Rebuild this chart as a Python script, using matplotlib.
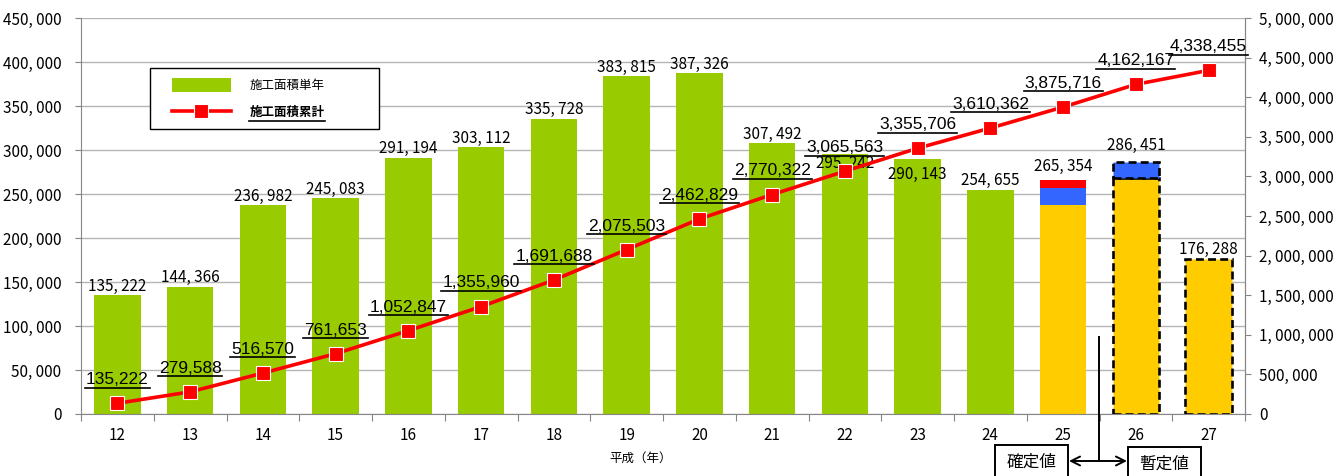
import numpy as np
import matplotlib
matplotlib.use("Agg")
import matplotlib.pyplot as plt
from matplotlib.lines import Line2D
from matplotlib.patches import Patch, Rectangle
from matplotlib.ticker import FuncFormatter, MultipleLocator

plt.rcParams['font.family'] = ['Noto Sans CJK JP', 'DejaVu Sans']

# 平成12年〜27年
years = [12, 13, 14, 15, 16, 17, 18, 19, 20, 21, 22, 23, 24, 25, 26, 27]
area_single = [135222, 144366, 236982, 245083, 291194, 303112, 335728, 383815,
               387326, 307492, 295242, 290143, 254655, 265354, 286451, 176288]
area_total = [135222, 279588, 516570, 761653, 1052847, 1355960, 1691688, 2075503,
              2462829, 2770322, 3065563, 3355706, 3610362, 3875716, 4162167, 4338455]
# H25-27 are split into parts, the rest is red
split_years = [25, 26, 27]
split_yellow = [237500, 267800, 176288]
split_blue = [19700, 18651, 0]
provisional_from = 26

GREEN = '#99CC00'
YELLOW = '#FFCC00'
BLUE = '#3366FF'
RED = '#FF0000'
GRAY = '#868686'

W, H = 1341, 476


def fpx(x, y):
    return x / W, 1 - y / H


def fmt(v, _=None):
    return f'{int(v):,}'.replace(',', ', ')


fig = plt.figure(figsize=(W / 100, H / 100), dpi=100)
ax = fig.add_axes([81 / W, 62 / H, 1164 / W, 396 / H])
x = np.arange(len(years))
bw = 0.64

# single-year bars
for i, yr in enumerate(years):
    if yr not in split_years:
        ax.bar(x[i], area_single[i], width=bw, color=GREEN, zorder=2)

for j, yr in enumerate(split_years):
    i = years.index(yr)
    red_part = area_single[i] - split_yellow[j] - split_blue[j]
    if yr >= provisional_from:
        kw = dict(edgecolor='black', linewidth=1.9, linestyle=(0, (3, 1.6)))
    else:
        kw = dict(linewidth=0)
    ax.bar(x[i], split_yellow[j], width=bw, color=YELLOW, zorder=2, **kw)
    if split_blue[j] > 0:
        ax.bar(x[i], split_blue[j], bottom=split_yellow[j], width=bw, color=BLUE, zorder=2, **kw)
    if red_part > 0:
        ax.bar(x[i], red_part, bottom=split_yellow[j] + split_blue[j], width=bw,
               color=RED, zorder=2, **kw)

ax.set_xlim(-0.5, len(years) - 0.5)
ax.set_ylim(0, 450000)
ax.yaxis.set_major_locator(MultipleLocator(50000))
ax.yaxis.set_major_formatter(FuncFormatter(fmt))
ax.yaxis.grid(True, color='#b5b5b5', linewidth=1.0)
ax.set_axisbelow(True)

ax.set_xticks(np.arange(-0.5, len(years), 1))
ax.set_xticklabels([])
ax.set_xticks(x, minor=True)
ax.set_xticklabels([str(y) for y in years], minor=True)
ax.tick_params(axis='x', which='major', length=5, color=GRAY, direction='out')
ax.tick_params(axis='x', which='minor', length=0, pad=9, labelsize=11)
ax.tick_params(axis='y', length=4, color=GRAY, pad=10, labelsize=11)

ax.spines['top'].set_visible(False)
for s in ['left', 'right', 'bottom']:
    ax.spines[s].set_color(GRAY)

# bar value labels
bar_off = {22: -6.5, 23: -11.5, 25: 10, 26: 11.5}
for i, yr in enumerate(years):
    ax.annotate(fmt(area_single[i]), (x[i], area_single[i]),
                xytext=(0, bar_off.get(yr, 6.5)), textcoords='offset points',
                ha='center', va='center', fontsize=11, zorder=5)

# cumulative line
ax2 = ax.twinx()
ax2.set_ylim(0, 5000000)
ax2.yaxis.set_major_locator(MultipleLocator(500000))
ax2.yaxis.set_major_formatter(FuncFormatter(fmt))
ax2.tick_params(axis='y', length=4, color=GRAY, pad=6, labelsize=11)
for s in ['top', 'left', 'bottom']:
    ax2.spines[s].set_visible(False)
ax2.spines['right'].set_color(GRAY)

ax2.plot(x, area_total, color=RED, linewidth=2.6, marker='s', markersize=9.5,
         markerfacecolor=RED, markeredgecolor='white', markeredgewidth=0.8, zorder=3)

cum_texts = []
for i, v in enumerate(area_total):
    t = ax2.annotate(f'{v:,}', (x[i], v), xytext=(0, 17), textcoords='offset points',
                     ha='center', va='center', fontsize=12.5, family='Liberation Sans')
    cum_texts.append(t)

# legend: frameless entries plus a separate box
fig.add_artist(Rectangle(fpx(150, 129), (379 - 150) / W, (129 - 68) / H,
                         transform=fig.transFigure, facecolor='white',
                         edgecolor='black', linewidth=1.0, zorder=4))
handles = [Patch(facecolor=GREEN),
           Line2D([], [], color=RED, linewidth=2.6, marker='s', markersize=9.5,
                  markerfacecolor=RED, markeredgecolor='white', markeredgewidth=0.8)]
leg = fig.legend(handles, ['施工面積単年', '施工面積累計'], loc='upper left',
                 bbox_to_anchor=fpx(172, 78), bbox_transform=fig.transFigure,
                 frameon=False, borderaxespad=0, borderpad=0, fontsize=9,
                 labelspacing=1.05, handlelength=4.7, handletextpad=1.5,
                 handleheight=1.3)
leg.set_zorder(5)
leg.get_texts()[1].set_fontweight('bold')

fig.text(641 / W, 1 - 458 / H, '平成（年）', ha='center', va='center', fontsize=9)

# 確定値 / 暫定値 annotation
fig.add_artist(Line2D([1099 / W] * 2, [1 - 337 / H, 1 - 461 / H], transform=fig.transFigure,
                      color='black', linewidth=1.4))
ax.annotate('', xy=fpx(1069, 461), xytext=fpx(1127, 461), xycoords='figure fraction',
            textcoords='figure fraction', annotation_clip=False,
            arrowprops=dict(arrowstyle='<->', color='black', lw=1.4, mutation_scale=16,
                            shrinkA=0, shrinkB=0))
for (x0, x1, top, label) in [(995, 1068, 445, '確定値'), (1128, 1201, 447, '暫定値')]:
    fig.add_artist(Rectangle(fpx(x0, 490), (x1 - x0) / W, (490 - top) / H,
                             transform=fig.transFigure, facecolor='white',
                             edgecolor='black', linewidth=1.4))
    fig.text((x0 + x1) / 2 / W, 1 - (top + 17) / H, label, ha='center', va='center',
             fontsize=12)

# underline the cumulative labels and the second legend entry (2.5 px below baseline)
fig.canvas.draw()
renderer = fig.canvas.get_renderer()
inv = fig.transFigure.inverted()
for t in cum_texts + [leg.get_texts()[1]]:
    bb = t.get_window_extent(renderer)
    _, _, descent = renderer.get_text_width_height_descent(
        t.get_text(), t.get_fontproperties(), ismath=False)
    uy = bb.y0 + descent - 2.5
    (ax0, ay0), (ax1, _) = inv.transform([(bb.x0 - 1, uy), (bb.x1 + 1, uy)])
    fig.add_artist(Line2D([ax0, ax1], [ay0, ay0], transform=fig.transFigure,
                          color='black', linewidth=1.2, zorder=6))

fig.savefig('out.png', dpi=100)
